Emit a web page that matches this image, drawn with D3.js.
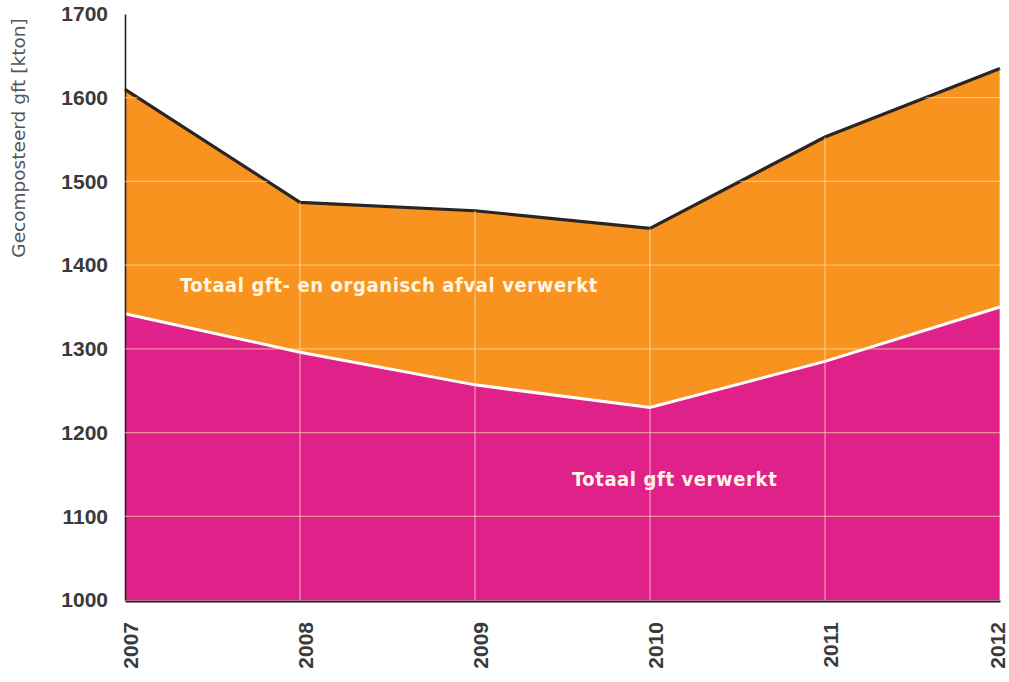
<!DOCTYPE html>
<html>
<head>
<meta charset="utf-8">
<script src="https://cdn.jsdelivr.net/npm/d3@7"></script>
<style>
  body { margin: 0; background: #fff; }
  svg { display: block; }
</style>
</head>
<body>
<div id="chart"></div>
<script>
// data
var years = [2007, 2008, 2009, 2010, 2011, 2012];
var totaalGftOrganisch = [1610, 1475, 1465, 1444, 1553, 1635];
var totaalGft = [1342, 1296, 1257, 1230, 1285, 1350];
var yTicks = [1000, 1100, 1200, 1300, 1400, 1500, 1600, 1700];

var svgWidth = 1009;
var svgHeight = 682;

var margin = { top: 14, right: 9, bottom: 81, left: 125 };

var svg = d3.select("#chart")
  .append("svg")
  .attr("width", svgWidth)
  .attr("height", svgHeight);

var g = svg.append("g")
  .attr("transform", `translate(${margin.left}, ${margin.top})`);

var x = d3.scaleLinear().domain([2007, 2012]).range([0, 875]);
var y = d3.scaleLinear().domain([1000, 1700]).range([586, 0]);

var rows = years.map(function(yr, i) {
  return { year: yr, top: totaalGftOrganisch[i], gft: totaalGft[i] };
});

// orange area (top series down to gft) and pink area below
var areaTop = d3.area()
  .x(d => x(d.year))
  .y0(d => y(d.gft))
  .y1(d => y(d.top));

var areaGft = d3.area()
  .x(d => x(d.year))
  .y0(y(1000))
  .y1(d => y(d.gft));

g.append("path").datum(rows).attr("d", areaTop).attr("fill", "#f7931e");
g.append("path").datum(rows).attr("d", areaGft).attr("fill", "#e0218a");

// gridlines, clipped to the coloured region
var clip = svg.append("clipPath").attr("id", "fillclip");
clip.append("path").datum(rows)
  .attr("d", d3.area().x(d => x(d.year)).y0(y(1000)).y1(d => y(d.top)))
  .attr("transform", `translate(${margin.left}, ${margin.top})`);

var grid = svg.append("g")
  .attr("clip-path", "url(#fillclip)")
  .append("g")
  .attr("transform", `translate(${margin.left}, ${margin.top})`);

grid.selectAll(".hg").data(yTicks.slice(1)).enter().append("line")
  .attr("x1", 0).attr("x2", x(2012))
  .attr("y1", d => y(d)).attr("y2", d => y(d))
  .attr("stroke", "#ffe9a8").attr("stroke-opacity", 0.55).attr("stroke-width", 1.2);

grid.selectAll(".vg").data(years.slice(1)).enter().append("line")
  .attr("x1", d => x(d)).attr("x2", d => x(d))
  .attr("y1", 0).attr("y2", y(1000))
  .attr("stroke", "#ffe9d0").attr("stroke-opacity", 0.6).attr("stroke-width", 1.2);

// lines on top of the areas
var lineTop = d3.line().x(d => x(d.year)).y(d => y(d.top));
var lineGft = d3.line().x(d => x(d.year)).y(d => y(d.gft));

g.append("path").datum(rows).attr("d", lineGft)
  .attr("fill", "none").attr("stroke", "#ffffff").attr("stroke-width", 3);
g.append("path").datum(rows).attr("d", lineTop)
  .attr("fill", "none").attr("stroke", "#2a2522").attr("stroke-width", 3.2);

// axes
var leftAxis = d3.axisLeft(y).tickValues(yTicks).tickSize(0).tickPadding(17).tickFormat(d3.format("d"));
var bottomAxis = d3.axisBottom(x).tickValues(years).tickSize(0).tickFormat(d3.format("d"));

var ya = g.append("g").call(leftAxis);
ya.select(".domain").attr("stroke", "#222").attr("stroke-width", 1.6);
ya.selectAll("text")
  .attr("font-family", "'Liberation Sans', Arial, sans-serif")
  .attr("font-weight", "bold")
  .attr("font-size", 21)
  .attr("fill", "#3a3a3a");

var xa = g.append("g")
  .attr("transform", `translate(0, ${y(1000) + 1})`)
  .call(bottomAxis);
xa.select(".domain").attr("stroke", "#3a1026").attr("stroke-width", 2);
xa.selectAll("text")
  .attr("font-family", "'Liberation Sans', Arial, sans-serif")
  .attr("font-weight", "bold")
  .attr("font-size", 21)
  .attr("fill", "#3a3a3a")
  .attr("text-anchor", "end")
  .attr("transform", (d, i) => `translate(${i === years.length - 1 ? -3 : 5}, 21) rotate(-90)`)
  .attr("x", 0).attr("y", 0).attr("dy", "0.36em");

// y title
svg.append("text")
  .attr("transform", "translate(25, 138) rotate(-90)")
  .attr("text-anchor", "middle")
  .attr("font-family", "'DejaVu Sans', sans-serif")
  .attr("font-size", 18.5)
  .attr("fill", "#555")
  .text("Gecomposteerd gft [kton]");

// series labels
var labelFont = "'DejaVu Sans Condensed', 'DejaVu Sans', sans-serif";

g.append("text")
  .attr("x", x(2007) + 55).attr("y", y(1400) + 20)
  .attr("dy", "0.35em")
  .attr("font-family", labelFont)
  .attr("font-weight", "bold")
  .attr("font-size", 20)
  .attr("letter-spacing", 0.6)
  .attr("fill", "#fff6e6")
  .text("Totaal gft- en organisch afval verwerkt");

g.append("text")
  .attr("x", x(2010) - 78).attr("y", y(1145))
  .attr("dy", "0.35em")
  .attr("font-family", labelFont)
  .attr("font-weight", "bold")
  .attr("font-size", 20)
  .attr("letter-spacing", 0.6)
  .attr("fill", "#fff6e6")
  .text("Totaal gft verwerkt");
</script>
</body>
</html>
